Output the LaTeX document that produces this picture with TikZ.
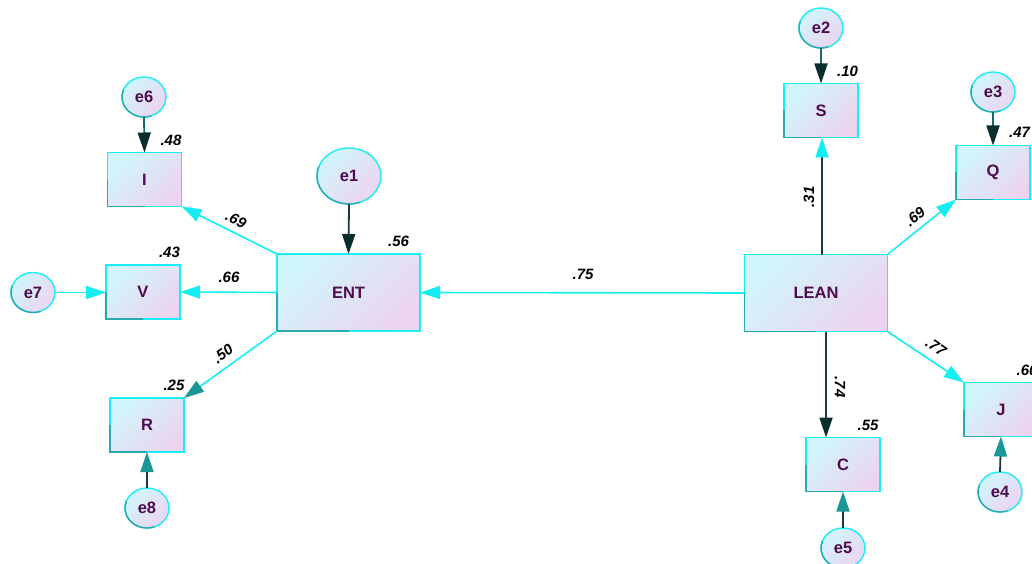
\documentclass[tikz,border=0pt]{standalone}
\usepackage{fontspec}
\setmainfont{Liberation Sans}
\usetikzlibrary{arrows.meta,shapes.geometric,calc}

\definecolor{rim}{RGB}{25,238,245}
\definecolor{lowrim}{RGB}{40,170,175}
\definecolor{fillA}{RGB}{208,246,252}
\definecolor{fillB}{RGB}{236,212,240}
\definecolor{ink}{RGB}{78,12,78}
\definecolor{cline}{RGB}{20,238,242}
\definecolor{tline}{RGB}{25,105,105}
\definecolor{dline}{RGB}{20,60,60}
\definecolor{dhead}{RGB}{10,45,45}
\definecolor{thead}{RGB}{25,150,150}

\begin{document}
\begin{tikzpicture}[x=1pt,y=-1pt,
  shadedfill/.style={left color=fillA, right color=fillB, shading angle=45},
  box/.style={rectangle, draw=rim, line width=1.4pt, shadedfill, outer sep=0pt,
    minimum width=74pt, minimum height=54pt, inner sep=0pt,
    text=ink, font=\fontsize{16.5}{16.5}\selectfont\bfseries},
  bigbox/.style={box, minimum width=143pt, minimum height=77pt},
  err/.style={ellipse, draw=rim, line width=1.4pt, shadedfill, outer sep=0pt,
    minimum width=44pt, minimum height=40pt, inner sep=0pt,
    text=ink, font=\fontsize{16.5}{16.5}\selectfont\bfseries},
  num/.style={inner sep=0pt, text=black, font=\fontsize{15}{15}\selectfont\bfseries\itshape},
  lowedge/.style={draw=lowrim, line width=1.4pt},
  tip/.style={-{Triangle[length=20pt,width=13pt,color=#1]}},
  cyanpath/.style={draw=cline, line width=1.6pt, tip=cline},
  errpath/.style={draw=tline, line width=1.8pt, tip=dhead},
  darkpath/.style={draw=dline, line width=1.8pt, tip=dhead},
  uppath/.style={draw=dline, line width=1.8pt, tip=thead}
]
\clip (0,0) rectangle (1032,564);

% observed variables and constructs
\node[box] (I) at (144.5,179.5) {I};
\node[box] (V) at (143,292) {V};
\node[box] (R) at (147,425) {R};
\node[bigbox] (ENT) at (348.5,292.5) {ENT};
\node[bigbox] (LEAN) at (816,293) {LEAN};
\node[box] (S) at (821,110.5) {S};
\node[box] (Q) at (993,172.5) {Q};
\node[box] (J) at (1001,409.5) {J};
\node[box] (C) at (843,464.5) {C};

% error terms
\node[err] (e6) at (144,97) {e6};
\node[err, minimum width=64pt, minimum height=56pt] (e1) at (349,176) {e1};
\node[err] (e7) at (33,292.5) {e7};
\node[err] (e8) at (147,508) {e8};
\node[err] (e2) at (821,28) {e2};
\node[err] (e3) at (993,92) {e3};
\node[err] (e4) at (1000,492) {e4};
\node[err] (e5) at (843,548) {e5};

% darker lower-left rims
\foreach \n in {I,V,R,ENT,LEAN,S,Q,J,C}
  \draw[lowedge] (\n.west) -- (\n.south west) -- (\n.south);
\foreach \n/\a/\b in {e6/22pt/20pt, e1/32pt/28pt, e7/22pt/20pt, e8/22pt/20pt,
                      e2/22pt/20pt, e3/22pt/20pt, e4/22pt/20pt, e5/22pt/20pt}
  \draw[lowedge] (\n.center) ++({cos(160)*\a},{sin(160)*\b})
    arc[start angle=160, end angle=290, x radius=\a, y radius=\b];

% structural paths
\draw[cyanpath] (LEAN.west) -- (ENT.east);
\draw[cyanpath] (ENT.north west) -- (I.south east);
\draw[cyanpath] (ENT.west) -- (V.east);
\draw[draw=cline, line width=1.6pt, tip=thead] (ENT.south west) -- (R.north east);
\draw[draw=dline, line width=1.8pt, tip=cline] ([xshift=6pt]LEAN.north) -- ([xshift=6pt]LEAN.north |- S.south);
\draw[cyanpath] (LEAN.north east) -- (Q.south west);
\draw[cyanpath] (LEAN.south east) -- (J.north west);
\draw[darkpath] ([xshift=10pt]LEAN.south) -- ([xshift=10pt]LEAN.south |- C.north);

% error paths
\draw[darkpath] (e1.south) -- (ENT.north);
\draw[errpath] (e6.south) -- (I.north);
\draw[cyanpath] (e7.east) -- (e7.east -| V.west);
\draw[uppath] (e8.north) -- (R.south);
\draw[errpath] (e2.south) -- (S.north);
\draw[errpath] (e3.south) -- (Q.north);
\draw[uppath] (e4.north) -- (J.south);
\draw[uppath] (e5.north) -- (C.south);

% estimates
\node[num] (r48) at (171,140) {.48};
\node[num] (r43) at (169.5,252) {.43};
\node[num] (r25) at (174,385) {.25};
\node[num] (r56) at (398.5,241) {.56};
\node[num] (r10) at (847.5,71) {.10};
\node[num] (r47) at (1019.5,132) {.47};
\node[num] (r60) at (1027,370) {.60};
\node[num] (r55) at (868,425) {.55};
\node[num, rotate=-27] (p69a) at (236,220) {.69};
\node[num] (p66) at (229,277) {.66};
\node[num, rotate=36] (p50) at (223,354) {.50};
\node[num] (p75) at (583,274) {.75};
\node[num, rotate=90] (p31) at (809,197) {.31};
\node[num, rotate=39] (p69b) at (915,217) {.69};
\node[num, rotate=-34] (p77) at (936,347) {.77};
\node[num, rotate=-90] (p74) at (840,387) {.74};
\end{tikzpicture}
\end{document}
